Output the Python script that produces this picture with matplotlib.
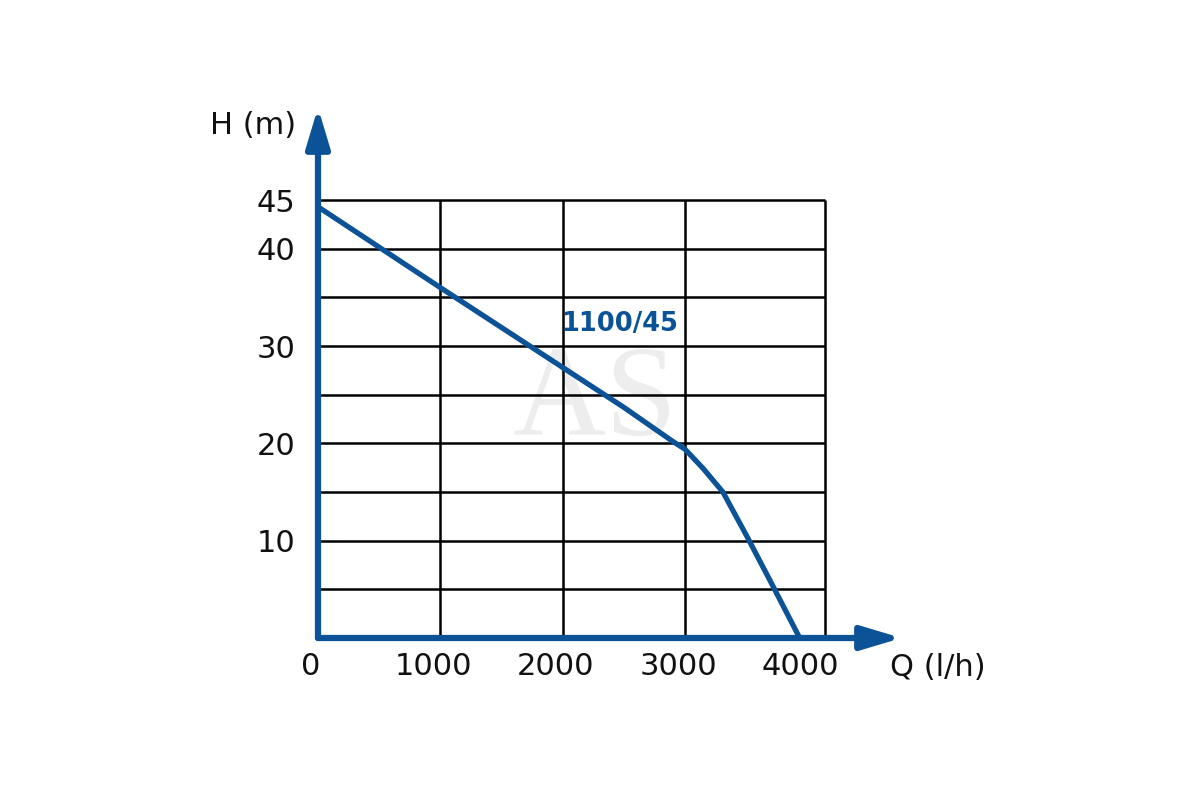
import matplotlib
matplotlib.use("Agg")
import matplotlib.pyplot as plt
import matplotlib.transforms as mtransforms

# Kennlinie der Pumpe 1100/45
flow = [0, 1000, 2000, 2500, 2900, 3000, 3150, 3310, 3500, 3700, 3930]
head = [44.3, 36.0, 27.8, 23.7, 20.2, 19.4, 17.4, 15.0, 10.6, 5.8, 0.2]

x_ticks = [0, 1000, 2000, 3000, 4000]
y_ticks = [10, 20, 30, 40, 45]
x_grid = [1000, 2000, 3000, 4145]
y_grid = [5, 10, 15, 20, 25, 30, 35, 40, 45]

blue = "#0b5296"

fig = plt.figure(figsize=(12, 8), dpi=100)
ax = fig.add_axes([318 / 1200, 162 / 800, 507 / 1200, 438 / 800])
ax.set_xlim(0, 4145)
ax.set_ylim(0, 45)
for s in ax.spines.values():
    s.set_visible(False)

# Wasserzeichen
ax.text(2270, 24, "AS", family="Liberation Serif", fontsize=93, color="#ededed",
        ha="center", va="center", zorder=0)

# Gitter
ax.vlines(x_grid, 0, 45, color="black", lw=1.8, zorder=1, clip_on=False)
ax.hlines(y_grid, 0, 4145, color="black", lw=1.8, zorder=1, clip_on=False)

# Achsen mit Pfeilen
arrow = dict(arrowstyle="-|>,head_length=1.2,head_width=0.36", lw=4.5, color=blue,
             mutation_scale=20, shrinkA=0, shrinkB=0)
ax.annotate("", xy=(0, 54.5), xytext=(0, 0), arrowprops=arrow, annotation_clip=False, zorder=4)
ax.annotate("", xy=(4770, 0), xytext=(0, 0), arrowprops=arrow, annotation_clip=False, zorder=4)

ax.plot(flow, head, color=blue, lw=3.8, solid_joinstyle="round", solid_capstyle="butt",
        clip_on=False, zorder=3)
ax.text(1990, 32.3, "1100/45", color=blue, fontsize=18.5, fontweight="bold", ha="left", va="center")

ax.set_xticks(x_ticks, [str(v) for v in x_ticks])
ax.set_yticks(y_ticks, [str(v) for v in y_ticks])
ax.tick_params(length=0, labelsize=22, labelcolor="#111111")
ax.tick_params(axis="x", pad=10)
ax.tick_params(axis="y", pad=16)

shift = mtransforms.ScaledTranslation(-7 / 100, 0, fig.dpi_scale_trans)
for lab in ax.get_xticklabels():
    lab.set_transform(lab.get_transform() + shift)

fig.text(253 / 1200, 1 - 125 / 800, "H (m)", fontsize=22, ha="center", va="center", color="#111111")
fig.text(938 / 1200, 1 - 668 / 800, "Q (l/h)", fontsize=22, ha="center", va="center", color="#111111")

fig.savefig("out.png", dpi=100, facecolor="white")
